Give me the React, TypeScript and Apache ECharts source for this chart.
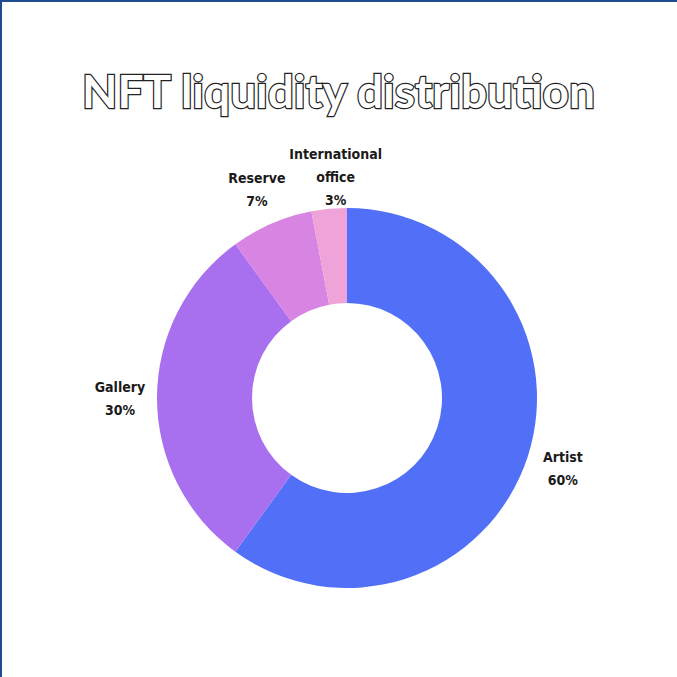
import React, { useEffect, useRef } from "react";
import * as echarts from "echarts";

const categories = ["Artist", "Gallery", "Reserve", "International\noffice"];
const values = [60, 30, 7, 3];
const colors = ["#5170f7", "#a870ef", "#d884e3", "#f0a3d8"];

export default function App() {
  const ref = useRef<HTMLDivElement>(null);
  useEffect(() => {
    if (!ref.current) return;
    const chart = echarts.init(ref.current, undefined, { renderer: "svg" });
    const pieData = categories.map((name, i) => ({
      name,
      value: values[i],
      itemStyle: { color: colors[i] },
    }));
    const labelData = categories.map((name, i) => ({
      name,
      value: values[i],
      label: i === 3 ? { offset: [10, 5] } : {},
    }));
    chart.setOption({
      animation: false,
      backgroundColor: "#ffffff",
      title: {
        text: "NFT liquidity distribution",
        left: "center",
        top: 62,
        textStyle: {
          fontFamily: "Lato",
          fontWeight: "bold",
          fontSize: 46,
          color: "#ffffff",
          textBorderColor: "#222222",
          textBorderWidth: 2.5,
        },
      },
      graphic: [
        { type: "rect", left: 0, top: 0, shape: { width: 677, height: 2 }, style: { fill: "#1f4b8f" } },
        { type: "rect", left: 0, top: 0, shape: { width: 2, height: 677 }, style: { fill: "#1f4b8f" } },
      ],
      series: [
        {
          type: "pie",
          center: [347, 398],
          radius: [95, 190],
          startAngle: 90,
          clockwise: true,
          silent: true,
          label: { show: false },
          labelLine: { show: false },
          data: pieData,
        },
        {
          type: "pie",
          center: [347, 398],
          radius: [190, 258],
          startAngle: 90,
          clockwise: true,
          silent: true,
          itemStyle: { color: "rgba(0,0,0,0)" },
          labelLine: { show: false },
          label: {
            show: true,
            position: "inside",
            formatter: (p: any) => `${p.name}\n${p.value}%`,
            fontFamily: "'DejaVu Sans Condensed', 'Roboto Condensed', Roboto, sans-serif",
            fontWeight: "bold",
            fontSize: 14,
            lineHeight: 23,
            color: "#1a1a1a",
            align: "center",
          },
          data: labelData,
        },
      ],
    });
    return () => chart.dispose();
  }, []);
  return (
    <div
      ref={ref}
      style={{ position: "absolute", left: 0, top: 0, width: 677, height: 677 }}
    />
  );
}
